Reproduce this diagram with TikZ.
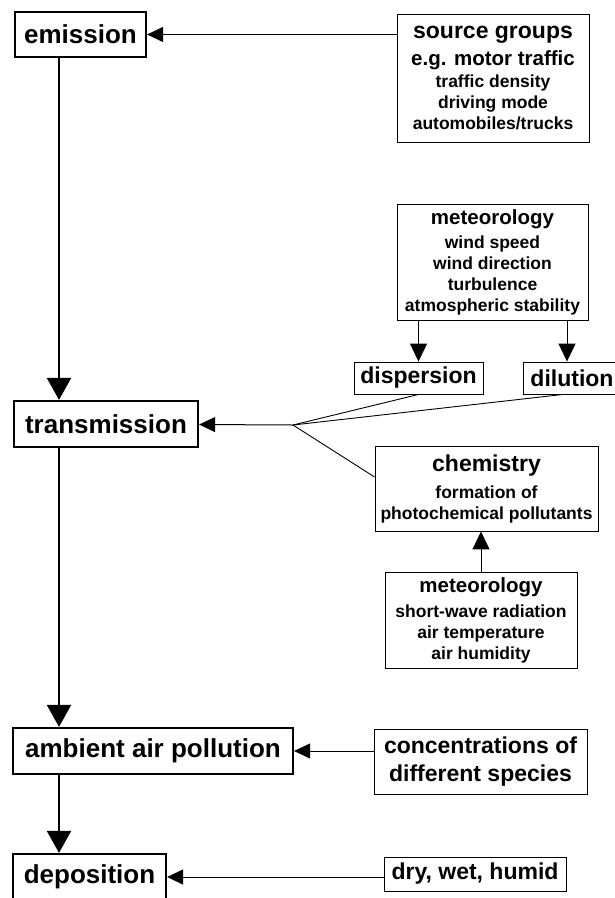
\documentclass[tikz,border=0pt]{standalone}
\usepackage{fontspec}
\setmainfont{Liberation Sans}
\usetikzlibrary{arrows.meta}

\newcommand\bigfont{\fontsize{26}{30}\selectfont\bfseries}
\newcommand\headfont{\fontsize{23}{27}\selectfont\bfseries}
\newcommand\subfont{\fontsize{20.5}{24}\selectfont\bfseries}
\newcommand\itemfont{\fontsize{17.5}{21}\selectfont\bfseries}

\begin{document}
\begin{tikzpicture}[x=1pt,y=-1pt,
    every node/.style={draw,inner sep=0pt,align=center},
    mainbox/.style={line width=2.2pt,font=\bigfont},
    infobox/.style={line width=0.9pt,font=\itemfont},
    mainarrow/.style={line width=2pt,-{Triangle[length=22pt,width=24pt]}},
    inarrow/.style={line width=1pt,-{Triangle[length=16pt,width=15pt]}},
    subarrow/.style={line width=1pt,-{Triangle[length=18pt,width=17pt]}}]

    \useasboundingbox (0,0) rectangle (614,898);

    %==================== Main chain ====================
    \node[mainbox,minimum width=131pt,minimum height=45pt] (em) at (80.5,34.5) {emission};
    \node[mainbox,minimum width=184pt,minimum height=46pt] (trans) at (106,424) {transmission};
    \node[mainbox,minimum width=280pt,minimum height=46pt] (amb) at (153,751) {ambient air pollution};
    \node[mainbox,minimum width=153pt,minimum height=46pt] (dep) at (89.5,877) {deposition};

    % Axis of the main chain
    \coordinate (axis) at (59,0);

    \foreach \a/\b in {em/trans,trans/amb,amb/dep} {
      \draw[mainarrow] (axis |- \a.south) -- (axis |- \b.north);
    }

    %==================== Side boxes ====================
    \node[infobox,minimum width=192pt,minimum height=128pt] (src) at (493,78)
      {{\headfont source groups}\\[6pt]{\subfont e.g. motor traffic}\\[1pt]
       traffic density\\ driving mode\\ automobiles/trucks};

    \node[infobox,minimum width=191pt,minimum height=116pt] (met1) at (492.5,262)
      {{\subfont meteorology}\\[3pt] wind speed\\ wind direction\\ turbulence\\
       atmospheric stability};

    \node[infobox,font=\headfont,minimum width=129pt,minimum height=32pt] (disp) at (418.5,378) {dispersion};
    \node[infobox,font=\headfont,minimum width=98pt,minimum height=32pt] (dil) at (572,378) {dilution};

    \node[infobox,minimum width=223pt,minimum height=85pt] (chem) at (486.5,488.5)
      {{\headfont chemistry}\\[6pt] formation of\\ photochemical pollutants};

    \node[infobox,minimum width=192pt,minimum height=96pt] (met2) at (481,620)
      {{\subfont meteorology}\\[4pt] short-wave radiation\\ air temperature\\ air humidity};

    \node[infobox,font=\headfont,minimum width=213pt,minimum height=65pt] (conc) at (480.5,761.5)
      {concentrations of\\[1pt] different species};

    \node[infobox,font=\headfont,minimum width=182pt,minimum height=34pt] (dry) at (475,874) {dry, wet, humid};

    %==================== Side connectors ====================
    \foreach \s/\t in {src/em,conc/amb,dry/dep} {
      \draw[inarrow] (\s.west |- \t) -- (\t);
    }

    % Meteorology splits into dispersion and dilution
    \coordinate (dilin) at ([xshift=-5pt]dil.north);
    \draw[subarrow] (met1.south -| disp) -- (disp);
    \draw[subarrow] (met1.south -| dilin) -- (dilin);

    % Dispersion, dilution and chemistry merge into transmission
    \coordinate (junc) at (293,425);
    \coordinate (dilout) at ([xshift=-9pt]dil.south);
    \coordinate (chemin) at ([yshift=11.5pt]chem.west);
    \foreach \p in {disp.south,dilout,chemin} {
      \draw[line width=0.9pt] (junc) -- (\p);
    }
    \draw[inarrow] (junc) -- (trans);

    % Meteorology drives chemistry
    \draw[subarrow] (met2.north) -- (chem.south -| met2.north);

\end{tikzpicture}
\end{document}
